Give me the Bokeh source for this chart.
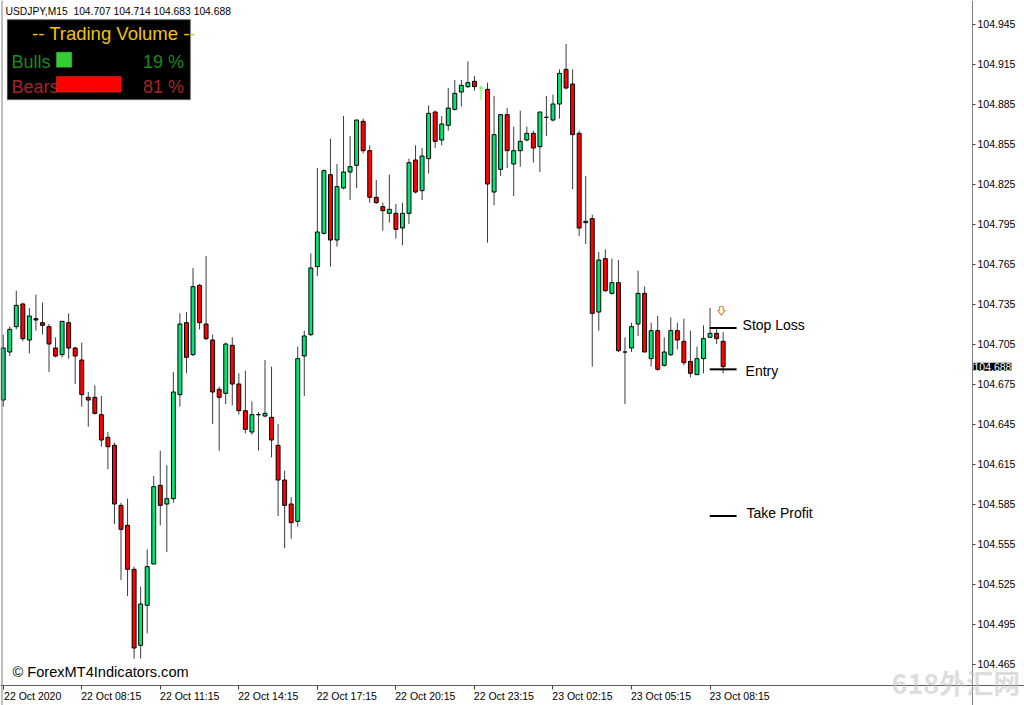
from bokeh.plotting import figure
from bokeh.models import Range1d, FixedTicker, Label, BoxAnnotation, Span, PrintfTickFormatter
from bokeh.embed import file_html
from bokeh.resources import INLINE

# ---------------- data ----------------
title_text = "USDJPY,M15\u00a0 104.707 104.714 104.683 104.688"
opens = [104.663, 104.699, 104.718, 104.735, 104.708, 104.724, 104.721, 104.718, 104.702, 104.697,
         104.721, 104.702, 104.693, 104.665, 104.665, 104.652, 104.635, 104.629, 104.584, 104.569,
         104.536, 104.479, 104.509, 104.540, 104.599, 104.585, 104.589, 104.667, 104.721, 104.697,
         104.749, 104.720, 104.708, 104.671, 104.668, 104.704, 104.675, 104.655, 104.639, 104.652,
         104.651, 104.650, 104.629, 104.603, 104.585, 104.572, 104.696, 104.712, 104.763, 104.788,
         104.832, 104.783, 104.822, 104.834, 104.839, 104.872, 104.850, 104.815, 104.808, 104.803,
         104.803, 104.792, 104.803, 104.843, 104.820, 104.844, 104.879, 104.858, 104.869, 104.881,
         104.894, 104.898, 104.902, 104.897, 104.896, 104.819, 104.836, 104.877, 104.840, 104.850,
         104.858, 104.863, 104.853, 104.875, 104.873, 104.885, 104.911, 104.900, 104.863, 104.796,
         104.799, 104.729, 104.769, 104.743, 104.751, 104.699, 104.702, 104.720, 104.743, 104.694,
         104.715, 104.689, 104.697, 104.715, 104.707, 104.692, 104.682, 104.694, 104.710, 104.713,
         104.707]
highs = [104.712, 104.718, 104.745, 104.736, 104.732, 104.742, 104.736, 104.720, 104.710, 104.722,
         104.728, 104.703, 104.706, 104.669, 104.674, 104.666, 104.639, 104.631, 104.586, 104.589,
         104.538, 104.523, 104.551, 104.606, 104.625, 104.614, 104.684, 104.728, 104.729, 104.762,
         104.750, 104.771, 104.712, 104.673, 104.706, 104.710, 104.683, 104.685, 104.662, 104.654,
         104.693, 104.688, 104.645, 104.610, 104.590, 104.703, 104.715, 104.773, 104.837, 104.836,
         104.859, 104.840, 104.876, 104.861, 104.873, 104.874, 104.854, 104.828, 104.811, 104.832,
         104.810, 104.811, 104.844, 104.854, 104.852, 104.884, 104.880, 104.876, 104.897, 104.903,
         104.903, 104.917, 104.906, 104.899, 104.901, 104.891, 104.877, 104.882, 104.868, 104.880,
         104.868, 104.865, 104.879, 104.891, 104.892, 104.911, 104.930, 104.911, 104.865, 104.831,
         104.802, 104.774, 104.776, 104.769, 104.768, 104.710, 104.721, 104.760, 104.748, 104.721,
         104.726, 104.710, 104.725, 104.721, 104.724, 104.715, 104.703, 104.719, 104.732, 104.716,
         104.714]
lows = [104.658, 104.696, 104.716, 104.707, 104.698, 104.715, 104.712, 104.684, 104.695, 104.695,
        104.694, 104.675, 104.658, 104.643, 104.652, 104.628, 104.611, 104.570, 104.528, 104.516,
        104.469, 104.469, 104.488, 104.540, 104.569, 104.549, 104.586, 104.658, 104.683, 104.696,
        104.716, 104.708, 104.645, 104.625, 104.660, 104.659, 104.652, 104.638, 104.637, 104.625,
        104.650, 104.620, 104.576, 104.552, 104.559, 104.568, 104.666, 104.711, 104.756, 104.787,
        104.763, 104.778, 104.821, 104.813, 104.822, 104.848, 104.811, 104.810, 104.790, 104.796,
        104.784, 104.779, 104.795, 104.818, 104.813, 104.833, 104.852, 104.854, 104.865, 104.880,
        104.883, 104.897, 104.895, 104.888, 104.781, 104.809, 104.831, 104.837, 104.816, 104.838,
        104.857, 104.841, 104.834, 104.861, 104.872, 104.874, 104.896, 104.821, 104.786, 104.780,
        104.688, 104.715, 104.744, 104.742, 104.699, 104.660, 104.699, 104.711, 104.699, 104.688,
        104.685, 104.688, 104.696, 104.701, 104.689, 104.680, 104.682, 104.683, 104.710, 104.705,
        104.683]
closes = [104.702, 104.716, 104.734, 104.709, 104.726, 104.723, 104.719, 104.705, 104.696, 104.722,
          104.702, 104.696, 104.667, 104.663, 104.653, 104.633, 104.628, 104.585, 104.566, 104.536,
          104.477, 104.510, 104.538, 104.598, 104.584, 104.589, 104.669, 104.720, 104.695, 104.748,
          104.721, 104.709, 104.669, 104.665, 104.705, 104.675, 104.655, 104.641, 104.652, 104.652,
          104.653, 104.633, 104.603, 104.584, 104.571, 104.694, 104.711, 104.762, 104.789, 104.835,
          104.783, 104.823, 104.834, 104.838, 104.873, 104.850, 104.815, 104.811, 104.805, 104.806,
          104.791, 104.803, 104.841, 104.819, 104.846, 104.878, 104.857, 104.870, 104.882, 104.893,
          104.899, 104.901, 104.898, 104.897, 104.825, 104.862, 104.877, 104.850, 104.850, 104.857,
          104.863, 104.852, 104.879, 104.875, 104.885, 104.908, 104.897, 104.862, 104.792, 104.797,
          104.728, 104.768, 104.745, 104.751, 104.700, 104.699, 104.718, 104.743, 104.699, 104.715,
          104.686, 104.699, 104.715, 104.708, 104.691, 104.683, 104.694, 104.709, 104.713, 104.709,
          104.688]
highlight_bar = 74            # bar drawn in lime in the reference
time_tick_bars = [1, 13, 25, 37, 49, 61, 73, 85, 97, 109]
time_tick_labels = ["22 Oct 2020", "22 Oct 08:15", "22 Oct 11:15", "22 Oct 14:15", "22 Oct 17:15",
                    "22 Oct 20:15", "22 Oct 23:15", "23 Oct 02:15", "23 Oct 05:15", "23 Oct 08:15"]
price_ticks = [104.465, 104.495, 104.525, 104.555, 104.585, 104.615, 104.645, 104.675, 104.705,
               104.735, 104.765, 104.795, 104.825, 104.855, 104.885, 104.915, 104.945]
stop_loss = 104.717
entry = 104.686
take_profit = 104.576
last_close = 104.688
bulls_pct = 19
bears_pct = 81

# ---------------- geometry helpers (screen px -> data) ----------------
W, H = 1024, 705
AXIS_X_PX, AXIS_Y_PX = 972, 685     # where the price / time axes sit
PX_PER_BAR = 6.545
PRICE_PER_PX = 0.00075
X_START = 1 - 2.7 / PX_PER_BAR
X_END = X_START + W / PX_PER_BAR
Y_TOP = 104.945 + 23.5 * PRICE_PER_PX


def dx(px):
    return X_START + px / PX_PER_BAR


def dy(py):
    return Y_TOP - py * PRICE_PER_PX


n = len(opens)
idx = list(range(1, n + 1))
UP, DOWN = "#00e676", "#ff0000"
fills, lines, wicks = [], [], []
for i, (o, c) in enumerate(zip(opens, closes)):
    if idx[i] == highlight_bar:
        fills.append("#55ff55"); lines.append("#55ff55"); wicks.append("#55ff55")
        continue
    fills.append(UP if c > o else (DOWN if c < o else "black"))
    lines.append("black")
    wicks.append("#3c3c3c")
tops = [max(o, c) for o, c in zip(opens, closes)]
bots = [min(o, c) for o, c in zip(opens, closes)]

p = figure(width=W, height=H, output_backend="svg", toolbar_location=None,
           x_range=Range1d(X_START, X_END), y_range=Range1d(dy(H), Y_TOP),
           y_axis_location="right", x_axis_location="below",
           min_border_left=0, min_border_top=0, min_border_right=0, min_border_bottom=0)
p.outline_line_color = None
p.background_fill_color = "white"
p.border_fill_color = "white"
p.xgrid.visible = False
p.ygrid.visible = False

# axes (pinned at their pixel place so the whole canvas stays drawable)
p.yaxis.fixed_location = dx(AXIS_X_PX)
p.yaxis.ticker = FixedTicker(ticks=price_ticks)
p.yaxis.formatter = PrintfTickFormatter(format="%.3f")
p.yaxis.major_tick_in = 0
p.yaxis.major_tick_out = 3
p.yaxis.minor_tick_line_color = None
p.yaxis.axis_line_color = "#808080"
p.yaxis.major_tick_line_color = "#404040"
p.yaxis.major_label_standoff = 2
p.yaxis.major_label_text_font = "Liberation Sans"
p.yaxis.major_label_text_font_size = "10.5px"
p.yaxis.major_label_text_color = "black"

LABEL_SHIFT = 4.5   # labels start at their tick (MT4 style): centre sits ~half a label to the right
p.xaxis.fixed_location = dy(AXIS_Y_PX)
p.xaxis.ticker = FixedTicker(ticks=[b + LABEL_SHIFT for b in time_tick_bars], minor_ticks=time_tick_bars)
p.xaxis.major_label_overrides = {b + LABEL_SHIFT: t for b, t in zip(time_tick_bars, time_tick_labels)}
p.xaxis.major_tick_line_color = None
p.xaxis.major_tick_in = 0
p.xaxis.major_tick_out = 0
p.xaxis.minor_tick_in = 0
p.xaxis.minor_tick_out = 4
p.xaxis.minor_tick_line_color = "#404040"
p.xaxis.axis_line_color = "#606060"
p.xaxis.major_label_standoff = 0
p.xaxis.major_label_text_font = "Liberation Sans"
p.xaxis.major_label_text_font_size = "10.5px"
p.xaxis.major_label_text_color = "black"

p.add_layout(Span(location=dx(1.5), dimension="height", line_color="#808080", line_width=1))

# candles
p.segment(x0=idx, y0=highs, x1=idx, y1=lows, line_color=wicks, line_width=1)
p.vbar(x=idx, width=0.6, top=tops, bottom=bots, fill_color=fills, line_color=lines, line_width=1)

# trade levels
last = idx[-1]
for lvl in (stop_loss, entry, take_profit):
    p.segment(x0=[last - 2.05], y0=[lvl], x1=[last + 2.05], y1=[lvl], line_color="black", line_width=2)
for txt, lvl, off_px, xo in (("Stop Loss", stop_loss, -3, 6), ("Entry", entry, 2, 9), ("Take Profit", take_profit, -3, 10)):
    p.add_layout(Label(x=last + 2.05, y=lvl - off_px * PRICE_PER_PX, x_offset=xo, text=txt,
                       text_font="Liberation Sans", text_font_size="14px", text_color="black",
                       text_baseline="middle", text_align="left"))

# sell arrow above the last bar (hollow, orange)
ax0 = last - 0.27
ay0 = highs[-1] + 25.5 * PRICE_PER_PX
shape = [(-1.8, 0), (1.8, 0), (1.8, 4), (3.7, 4), (0, 8.7), (-3.7, 4), (-1.8, 4)]
p.patch(x=[ax0 + sx / PX_PER_BAR for sx, sy in shape],
        y=[ay0 - sy * PRICE_PER_PX for sx, sy in shape],
        fill_color="white", line_color="#d8902e", line_width=1.2)

# header text
p.add_layout(Label(x=dx(5), y=dy(10.5), text=title_text, text_font="Liberation Sans",
                   text_font_size="10.3px", text_color="black", text_baseline="middle"))

# trading volume box
p.add_layout(BoxAnnotation(left=dx(6.7), right=dx(190), top=dy(19), bottom=dy(99.3),
                           fill_color="black", fill_alpha=1, line_color="#909090", line_width=1.5))
p.add_layout(Label(x=dx(31.5), y=dy(33.3), text="-- Trading Volume --", text_font="Liberation Sans",
                   text_font_size="18.5px", text_color="#f2c400", text_baseline="middle"))
p.add_layout(Label(x=dx(11), y=dy(61.7), text="Bulls", text_font="Liberation Sans",
                   text_font_size="18px", text_color="#1b8a1b", text_baseline="middle"))
p.add_layout(Label(x=dx(183.5), y=dy(61.7), text=f"{bulls_pct} %", text_font="Liberation Sans",
                   text_font_size="18px", text_color="#1b8a1b", text_baseline="middle", text_align="right"))
p.add_layout(BoxAnnotation(left=dx(56), right=dx(56 + bulls_pct * 0.8), top=dy(51.7), bottom=dy(66.7),
                           fill_color="#33cc33", fill_alpha=1, line_color="#66dd66", line_width=1))
p.add_layout(Label(x=dx(11), y=dy(86), text="Bears", text_font="Liberation Sans",
                   text_font_size="18px", text_color="#a82424", text_baseline="middle"))
p.add_layout(Label(x=dx(183.5), y=dy(86), text=f"{bears_pct} %", text_font="Liberation Sans",
                   text_font_size="18px", text_color="#a82424", text_baseline="middle", text_align="right"))
p.add_layout(BoxAnnotation(left=dx(56), right=dx(56 + bears_pct * 0.8), top=dy(76), bottom=dy(91.7),
                           fill_color="#ff0000", fill_alpha=1, line_color="#ff5a5a", line_width=1))

# copyright + watermark
p.add_layout(Label(x=dx(12), y=dy(671), text="\u00a9 ForexMT4Indicators.com", text_font="Liberation Sans",
                   text_font_size="14.6px", text_color="black", text_baseline="middle"))
p.add_layout(Label(x=dx(891), y=dy(682), text="618外汇网", text_font="Noto Sans CJK SC",
                   text_font_size="27px", text_font_style="bold", text_color="#c0c0c0", text_alpha=0.55,
                   text_baseline="middle"))

# current price tag
p.add_layout(Label(x=dx(AXIS_X_PX), y=last_close, x_offset=1, text=f"{last_close:.3f}",
                   text_font="Liberation Sans", text_font_size="10.5px", text_color="white",
                   background_fill_color="black", text_baseline="middle"))

open("out.html", "w").write(file_html(p, INLINE))
